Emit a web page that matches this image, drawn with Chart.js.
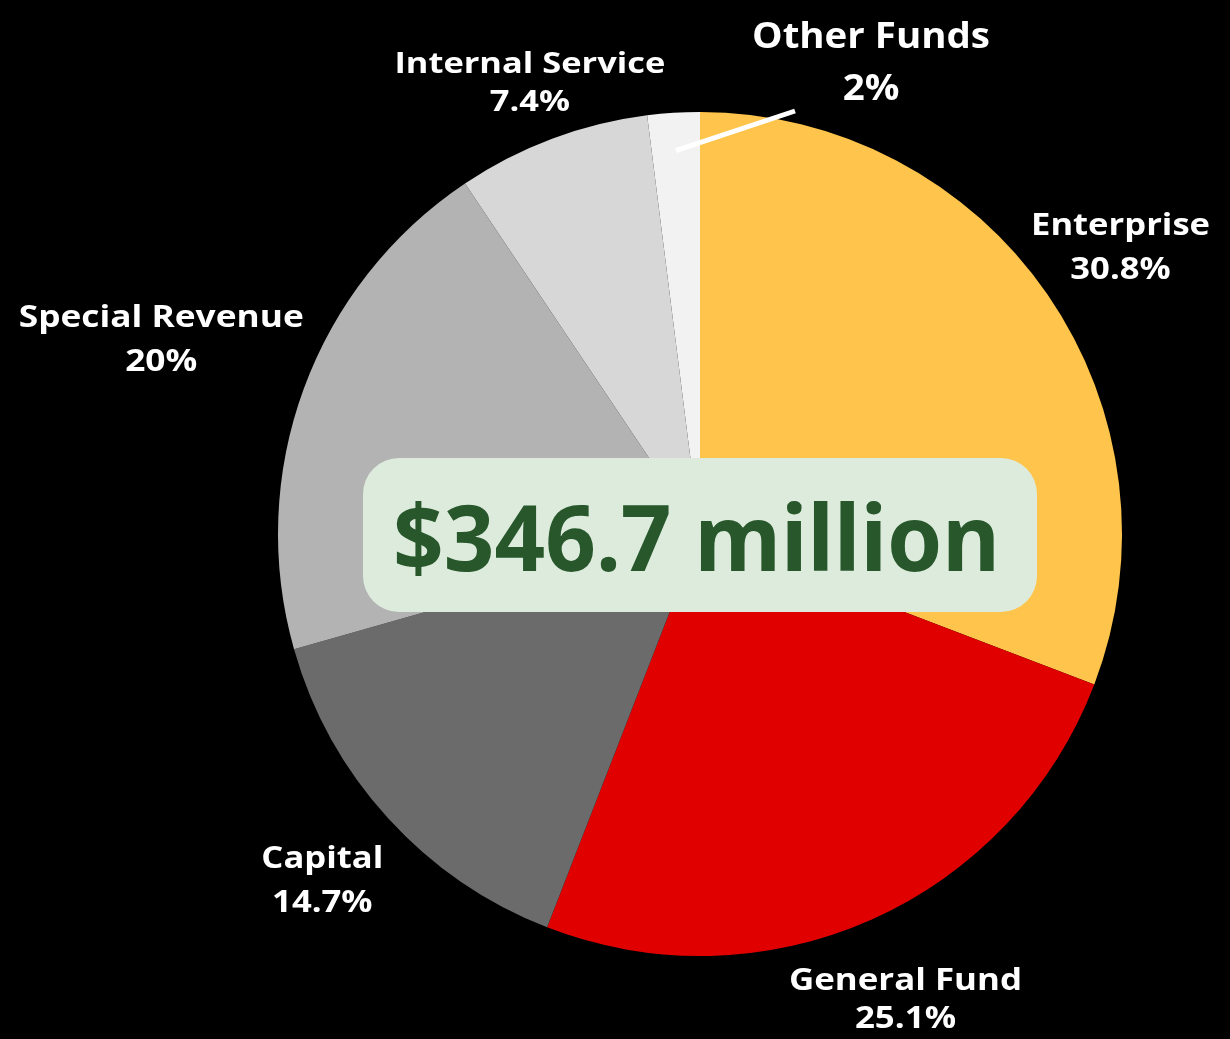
<!DOCTYPE html>
<html>
<head>
<meta charset="utf-8">
<script src="https://cdn.jsdelivr.net/npm/chart.js@4"></script>
<style>
  html, body { margin: 0; padding: 0; background: #000; }
  #wrap { width: 1230px; height: 1039px; position: relative; }
</style>
</head>
<body>
<div id="wrap"><canvas id="c" width="1230" height="1039"></canvas></div>
<script>
const categories = ["Enterprise", "General Fund", "Capital", "Special Revenue", "Internal Service", "Other Funds"];
const shares = [30.8, 25.1, 14.7, 20, 7.4, 2];
const shareLabels = ["30.8%", "25.1%", "14.7%", "20%", "7.4%", "2%"];
const totalLabel = "$346.7 million";

const colors = ["#FFC44B", "#E00000", "#6B6B6B", "#B3B3B3", "#D7D7D7", "#F2F2F2"];
// label placement: distance factor relative to radius, font size, line gap, target width of name line
const labelStyle = [
  { f: 1.21, size: 30, gap: 44, w: 179 },
  { f: 1.20, size: 30, gap: 38, w: 233 },
  { f: 1.21, size: 30, gap: 44, w: 122 },
  { f: 1.36, size: 30, gap: 44, w: 285 },
  { f: 1.15, size: 29, gap: 38, w: 271 },
  { f: 1.0, dx: 171, dy: -472, size: 36, gap: 52, w: 238, leader: true }
];
const labelFont = "'Open Sans', sans-serif";

const labelPlugin = {
  id: 'labels',
  afterDraw(chart) {
    const ctx = chart.ctx;
    const meta = chart.getDatasetMeta(0);
    meta.data.forEach((arc, i) => {
      const st = labelStyle[i];
      const mid = (arc.startAngle + arc.endAngle) / 2;
      const R = arc.outerRadius;
      let lx, ly;
      if (st.leader) {
        lx = arc.x + st.dx;
        ly = arc.y + st.dy;
        const sx = arc.x + Math.cos(mid) * R * 0.91;
        const sy = arc.y + Math.sin(mid) * R * 0.91;
        ctx.save();
        ctx.strokeStyle = "#FFFFFF";
        ctx.lineWidth = 5;
        ctx.beginPath();
        ctx.moveTo(sx, sy);
        ctx.lineTo(lx - 76, ly + 49);
        ctx.stroke();
        ctx.restore();
        ly += 2;
      } else {
        lx = arc.x + Math.cos(mid) * R * st.f;
        ly = arc.y + Math.sin(mid) * R * st.f + 4;
      }
      ctx.save();
      ctx.fillStyle = "#FFFFFF";
      ctx.font = `bold ${st.size}px ${labelFont}`;
      ctx.textAlign = "center";
      ctx.textBaseline = "middle";
      const mw = ctx.measureText(categories[i]).width;
      const k = st.w / mw;
      ctx.translate(lx, ly);
      ctx.scale(k, 1);
      ctx.fillText(categories[i], 0, -st.gap / 2);
      ctx.fillText(shareLabels[i], 0, st.gap / 2);
      ctx.restore();
    });

    // center total box
    const a0 = meta.data[0];
    const cx = a0.x, cy = a0.y;
    const bw = 674, bh = 154, r = 36;
    const bx = cx - 337, by = cy - 76;
    ctx.save();
    ctx.fillStyle = "#DDEBDD";
    ctx.beginPath();
    ctx.roundRect(bx, by, bw, bh, r);
    ctx.fill();
    ctx.fillStyle = "#27572B";
    ctx.font = "bold 92px 'Noto Sans', sans-serif";
    ctx.textBaseline = "alphabetic";
    ctx.textAlign = "left";
    const w = ctx.measureText(totalLabel).width;
    const target = 607;
    const sx = target / w;
    ctx.translate(cx - 307, cy + 37);
    ctx.scale(sx, 1);
    ctx.fillText(totalLabel, 0, 0);
    ctx.restore();
  }
};

new Chart(document.getElementById('c'), {
  type: 'pie',
  data: {
    labels: categories,
    datasets: [{
      data: shares,
      backgroundColor: colors,
      borderWidth: 0
    }]
  },
  options: {
    responsive: false,
    animation: false,
    layout: { padding: { top: 112, bottom: 83, left: 278, right: 108 } },
    plugins: { legend: { display: false }, tooltip: { enabled: false } }
  },
  plugins: [labelPlugin]
});
</script>
</body>
</html>
